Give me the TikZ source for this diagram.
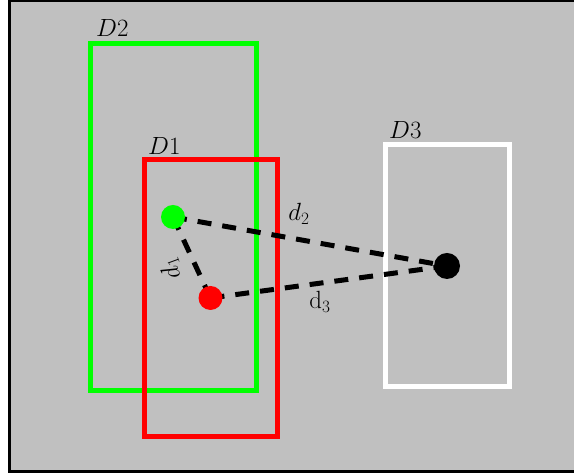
\documentclass[tikz,border=0pt]{standalone}
\usepackage{tikz}
\definecolor{bggray}{HTML}{C0C0C0}
\definecolor{pgreen}{HTML}{00FF00}
\definecolor{pred}{HTML}{FF0000}
\tikzset{
  region/.style={line width=5pt},
  dist/.style={line width=5pt, dash pattern=on 14pt off 11pt},
  dot/.style={circle, inner sep=0pt, minimum size=24pt},
  biglab/.style={inner sep=0pt, anchor=base west, font=\fontsize{25}{30}\selectfont},
  smalllab/.style={inner sep=0pt, font=\fontsize{27}{32}\selectfont}
}
\begin{document}
\begin{tikzpicture}[x=1pt,y=1pt]
\useasboundingbox (0,0) rectangle (574,473);
\clip (0,0) rectangle (574,473);
\draw[line width=2.5pt, fill=bggray] (9.5,472.5) rectangle (576,1.5);
% regions
\draw[region, pgreen] (90,429) rectangle (256,82);
\draw[region, pred] (144,313.5) rectangle (277,36.5);
\draw[region, white] (385.5,328.5) rectangle (509.5,86.5);
\node[biglab] (lD2) at (96,436) {$D2$};
\node[biglab] (lD1) at (148,318) {$D1$};
\node[biglab] (lD3) at (389,334) {$D3$};
% points
\coordinate (g) at (173,256);
\coordinate (r) at (210.5,175);
\coordinate (b) at (447,207);
\draw[dist] (g) -- (b);
\draw[dist] (r) -- (b);
\draw[dist] (g) -- (r);
\node[dot, fill=pgreen] (gd) at (g) {};
\node[dot, fill=pred] (rd) at (r) {};
\node[dot, fill=black, minimum size=26pt] (bd) at (b) {};
\node[smalllab] (l2) at (299,259) {$d_2$};
\node[smalllab] (l3) at (320,171) {$\mathrm{d}_3$};
\node[smalllab, rotate=110] (l1) at (171,204) {$d_1$};
\end{tikzpicture}
\end{document}
